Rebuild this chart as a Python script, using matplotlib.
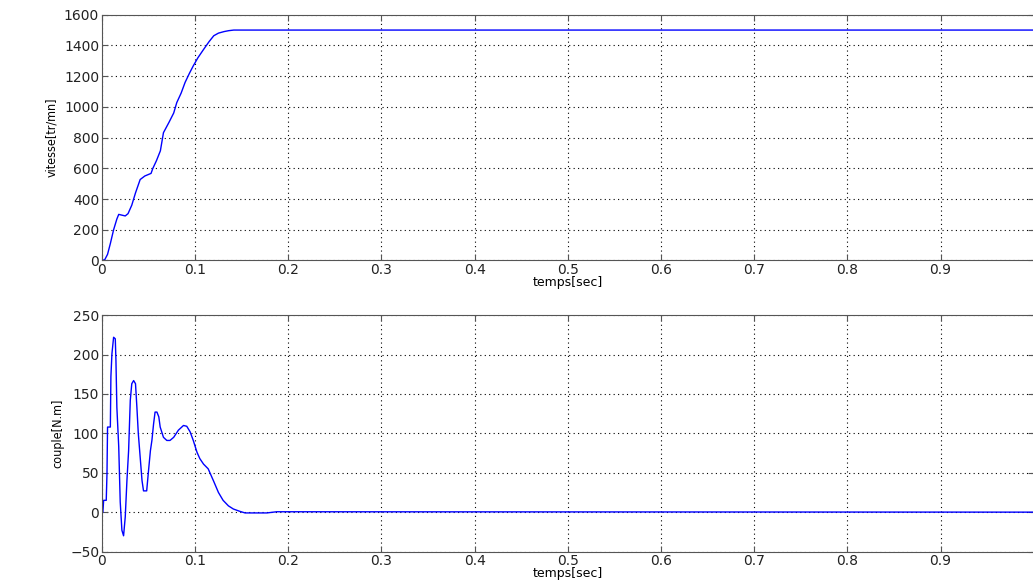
import matplotlib
matplotlib.use('Agg')
import matplotlib.pyplot as plt
import numpy as np

# vitesse (speed) curve
t_w = [0, 0.003, 0.006, 0.009, 0.0125, 0.016, 0.018, 0.0215, 0.025, 0.028, 0.032,
       0.036, 0.041, 0.046, 0.0527, 0.0545, 0.0585, 0.0627, 0.066, 0.072, 0.077,
       0.0803, 0.085, 0.0892, 0.094, 0.098, 0.103, 0.1093, 0.115, 0.12, 0.125,
       0.131, 0.136, 0.1415, 0.15, 1.0]
w = [0, 5, 40, 110, 200, 270, 300, 295, 290, 305, 360,
     440, 527, 550, 567, 598, 650, 714, 832, 900, 960,
     1028, 1090, 1159, 1220, 1267, 1320, 1376, 1425, 1463, 1480,
     1490, 1496, 1500, 1500, 1500]

# couple (torque) curve
t_c = [0, 0.001, 0.0018, 0.0046, 0.0054, 0.006, 0.009, 0.0096, 0.0107, 0.0125,
       0.0143, 0.015, 0.016, 0.018, 0.0196, 0.0214, 0.0232, 0.025, 0.0268, 0.0286,
       0.0304, 0.032, 0.034, 0.036, 0.0375, 0.039, 0.041, 0.043, 0.0446, 0.048,
       0.05, 0.052, 0.0536, 0.0554, 0.057, 0.059, 0.061, 0.0625, 0.066, 0.0696,
       0.073, 0.077, 0.082, 0.0875, 0.091, 0.0946, 0.098, 0.102, 0.105, 0.109,
       0.114, 0.1196, 0.125, 0.13, 0.1357, 0.141, 0.148, 0.1536, 0.177, 0.1875, 1.0]
c = [0, 0, 15, 15, 49, 108, 108, 172, 201, 222,
     220, 193, 133, 83, 13, -23, -30, -6, 40, 78,
     142, 163, 167, 163, 133, 100, 70, 40, 27, 27,
     53, 78, 91, 112, 127, 127, 121, 108, 95, 91,
     91, 95, 104, 110, 109, 102, 91, 76, 68, 61,
     55, 40, 25, 15, 8, 4, 1, -1, -1, 0.5, 0]

xticks = [0, 0.1, 0.2, 0.3, 0.4, 0.5, 0.6, 0.7, 0.8, 0.9]
xticklabels = ['0', '0.1', '0.2', '0.3', '0.4', '0.5', '0.6', '0.7', '0.8', '0.9']

plt.rcParams['font.family'] = ['DejaVu Sans']

fig = plt.figure(figsize=(10.33, 5.88), dpi=100)
ax1 = fig.add_axes([0.0987, 0.557, 0.902, 0.418])
ax2 = fig.add_axes([0.0987, 0.062, 0.902, 0.402])


def style(ax, yticks):
    ax.set_xlim(0, 1)
    ax.set_xticks(xticks)
    ax.set_xticklabels(xticklabels)
    ax.set_yticks(yticks)
    ax.set_ylim(yticks[0], yticks[-1])
    ax.grid(True, color='black', linestyle=(0, (1, 3)), linewidth=0.8)
    ax.tick_params(direction='in', top=True, right=True, labelsize=10,
                   length=4, color='#555555', pad=2, labelcolor='#222222')
    for s in ax.spines.values():
        s.set_color('#555555')
    ax.set_xlabel('temps[sec]', fontsize=9, labelpad=-1)


ax1.plot(t_w, w, color='#0000ff', linewidth=1)
style(ax1, [0, 200, 400, 600, 800, 1000, 1200, 1400, 1600])
ax1.set_ylabel('vitesse[tr/mn]', fontsize=9, labelpad=4, fontstretch='condensed')

ax2.plot(t_c, c, color='#0000ff', linewidth=1)
style(ax2, [-50, 0, 50, 100, 150, 200, 250])
ax2.set_ylabel('couple[N.m]', fontsize=9, labelpad=4, fontstretch='condensed')

fig.savefig('out.png', dpi=100)
